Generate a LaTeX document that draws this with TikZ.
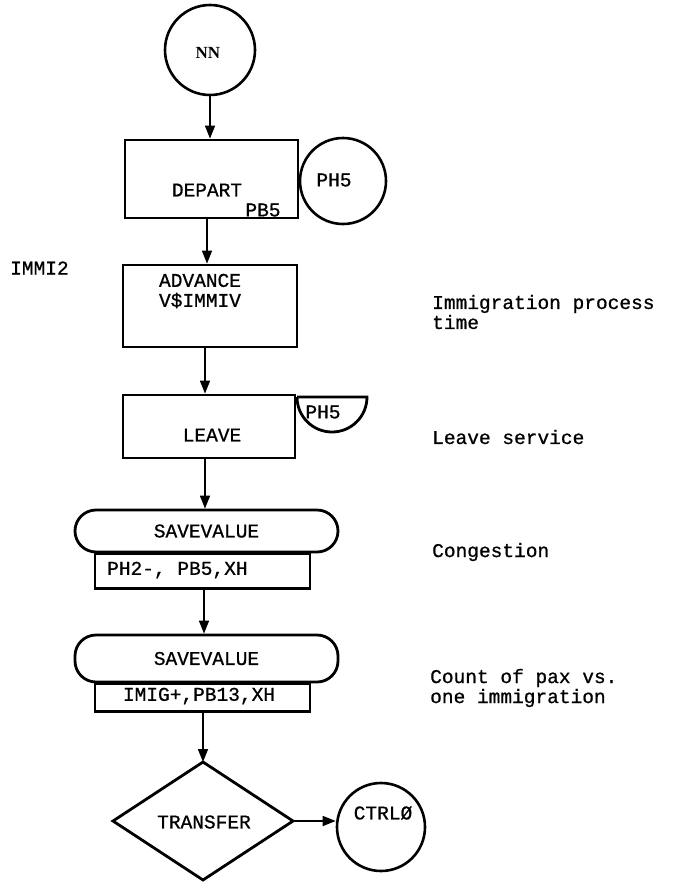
\documentclass[tikz,border=0pt]{standalone}
\usepackage{fontspec}
\setmonofont[FakeBold=0.8]{Liberation Mono}
\setmainfont{Liberation Serif}
\usetikzlibrary{arrows.meta}
\begin{document}
\begin{tikzpicture}[x=1pt,y=-1pt,
  every node/.style={font=\ttfamily\fontsize{19.5}{20}\selectfont, inner sep=0pt, align=left},
  blk/.style={draw, line width=2.8pt, rectangle},
  circ/.style={draw, line width=2.6pt, circle},
  pill/.style={draw, line width=2.8pt, rectangle, rounded corners=21pt},
  conn/.style={draw, line width=1.6pt, -{Triangle[length=13pt,width=10pt]}},
  note/.style={anchor=west}]
\useasboundingbox (0,0) rectangle (679,889);
% NN
\node[circ, minimum size=90pt] (nn) at (210,50) {};
\node[font=\rmfamily\bfseries\fontsize{17}{18}\selectfont] (nnt) at (208,53) {NN};
% DEPART
\node[blk, minimum width=173pt, minimum height=78pt] (depart) at (211.5,179) {};
\node (departt) at (207,190) {DEPART};
\node (pb5) at (263,210) {PB5};
\node[circ, minimum size=86pt] (ph5) at (343,181) {};
\node (ph5t) at (334,180) {PH5};
% ADVANCE
\node[blk, minimum width=174pt, minimum height=82pt] (adv) at (210,306) {};
\node (advt) at (200,291) {ADVANCE\\V\$IMMIV};
% LEAVE
\node[blk, minimum width=172pt, minimum height=63pt] (leave) at (209,426.5) {};
\node (leavet) at (212,435) {LEAVE};
\coordinate (hc) at (297,397);
\draw[line width=2.8pt] (hc) -- ++(70,0) arc[start angle=0, end angle=-180, radius=35pt];
\node (ph5b) at (323,412) {PH5};
% SAVEVALUE 1
\node[pill, minimum width=263pt, minimum height=42pt] (sv1) at (206.5,531) {SAVEVALUE};
\node[blk, minimum width=215pt, minimum height=35pt, anchor=north] (sv1b) at (202.5,552) {};
\node[anchor=west] (sv1t) at (107,570) {PH2-, PB5,XH};
% SAVEVALUE 2
\node[pill, minimum width=263pt, minimum height=47pt] (sv2) at (206.5,658.5) {SAVEVALUE};
\node[blk, minimum width=215pt, minimum height=28pt, anchor=north] (sv2b) at (202.5,682) {};
\node (sv2t) at (199,696) {IMIG+,PB13,XH};
% TRANSFER
\coordinate (dtop) at (203,762);
\coordinate (dbot) at (203,880);
\coordinate (dl) at (113,821);
\coordinate (dr) at (293,821);
\draw[line width=2.8pt, line join=miter] (dtop) -- (dr) -- (dbot) -- (dl) -- cycle;
\node (tr) at (204,822) {TRANSFER};
\node[circ, minimum size=88pt] (ctrl) at (381,827) {};
\node (ctrlt) at (383,813) {CTRL\O};
% connectors
\draw[conn] (nn.south) -- (nn.south |- depart.north);
\draw[conn] (207,218) -- (adv.north -| 207,0);
\draw[conn] (205,347) -- (leave.north -| 205,0);
\draw[conn] (205,458) -- (sv1.north -| 205,0);
\draw[conn] (204,587) -- (sv2.north -| 204,0);
\draw[conn] (203,710) -- (dtop);
\draw[conn] (dr) -- (ctrl.west |- dr);
% annotations
\node[note] (immi) at (10,268) {IMMI2};
\node[note] (n1) at (432,312) {Immigration process\\time};
\node[note] (n2) at (432,437) {Leave service};
\node[note] (n3) at (432,552) {Congestion};
\node[note] (n4) at (430,688) {Count of pax vs.\\one immigration};
\end{tikzpicture}
\end{document}
